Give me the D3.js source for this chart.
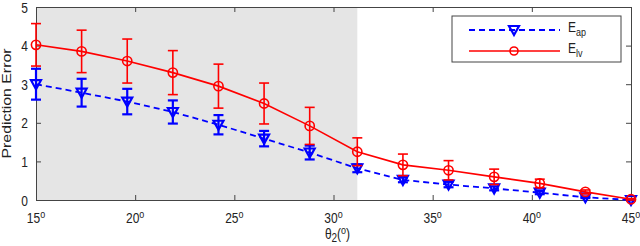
<!DOCTYPE html>
<html>
<head>
<meta charset="utf-8">
<script src="https://d3js.org/d3.v7.min.js"></script>
<style>
  body { margin: 0; background: #fff; }
  svg text { font-family: "Liberation Sans", Arial, sans-serif; fill: #222; }
</style>
</head>
<body>
<script>
// angle theta2 (degrees)
var angles = [15, 17.3, 19.6, 21.9, 24.2, 26.5, 28.8, 31.2, 33.5, 35.8, 38.1, 40.4, 42.7, 45];
// E_ap (blue dashed, triangles)
var apMean = [3.0, 2.78, 2.55, 2.28, 1.95, 1.59, 1.23, 0.82, 0.52, 0.4, 0.3, 0.19, 0.07, 0.0];
var apErr  = [0.4, 0.36, 0.33, 0.3, 0.25, 0.2, 0.18, 0.1, 0.06, 0.07, 0.05, 0.04, 0.02, 0.01];
// E_lv (red solid, circles)
var lvMean = [4.02, 3.85, 3.6, 3.3, 2.95, 2.5, 1.92, 1.25, 0.91, 0.77, 0.6, 0.43, 0.21, 0.02];
var lvErr  = [0.55, 0.55, 0.57, 0.57, 0.57, 0.53, 0.48, 0.36, 0.28, 0.25, 0.2, 0.11, 0.05, 0.02];
var xTicks = [15, 20, 25, 30, 35, 40, 45];
var yTicks = [0, 1, 2, 3, 4, 5];
var shadeEnd = 31.2;

var width = 640, height = 246;
var margin = {left: 36, right: 9, top: 7, bottom: 46};
var pw = width - margin.left - margin.right;
var ph = height - margin.top - margin.bottom;
var stretch = "scale(1,1.2)"; // the figure's text looks taller than wide

var svg = d3.select("body").append("svg")
    .attr("width", width)
    .attr("height", height);

var g = svg.append("g").attr("transform", "translate(" + margin.left + "," + margin.top + ")");

var x = d3.scaleLinear().domain([15, 45]).range([0, pw]);
var y = d3.scaleLinear().domain([0, 5]).range([ph, 0]);

// shaded region
g.append("rect")
    .attr("x", 0).attr("y", 0)
    .attr("width", x(shadeEnd) - x(15))
    .attr("height", ph)
    .attr("fill", "#e5e5e5");

// axes (inner ticks, box)
var axisColor = "#444";
var xb = g.append("g").attr("transform", "translate(0," + ph + ")")
    .call(d3.axisBottom(x).tickValues(xTicks).tickSize(-5).tickFormat(""));
var xt = g.append("g")
    .call(d3.axisTop(x).tickValues(xTicks).tickSize(-5).tickFormat(""));
var yl = g.append("g")
    .call(d3.axisLeft(y).tickValues(yTicks).tickSize(-5).tickFormat(d3.format("d")).tickPadding(8));
var yr = g.append("g").attr("transform", "translate(" + pw + ",0)")
    .call(d3.axisRight(y).tickValues(yTicks).tickSize(-5).tickFormat(""));
[xb, xt, yl, yr].forEach(function (a) {
    a.selectAll("path").attr("stroke", axisColor);
    a.selectAll("line").attr("stroke", axisColor);
    a.selectAll("text").style("font-size", "12px").attr("fill", "#222")
        .style("font-family", "Liberation Sans, Arial, sans-serif");
});
yl.selectAll("text").attr("dy", "0.35em").attr("transform", stretch);

// x tick labels with degree sign
var xl = g.append("g").selectAll("g.xtl")
    .data(xTicks).enter().append("g")
    .attr("class", "xtl")
    .attr("transform", function (d) { return "translate(" + x(d) + "," + (ph + 23) + ") " + stretch; })
    .append("text")
    .attr("text-anchor", "middle")
    .style("font-size", "12px");
xl.append("tspan").text(function (d) { return d; });
xl.append("tspan").attr("dy", -4).style("font-size", "9px").text("o");

// axis labels
var xlab = svg.append("g")
    .attr("transform", "translate(" + (margin.left + x(30) + 4) + ",239) " + stretch)
    .append("text")
    .attr("text-anchor", "middle")
    .style("font-size", "12px");
xlab.append("tspan").text("\u03b8");
xlab.append("tspan").attr("dy", 2.5).style("font-size", "10px").text("2");
xlab.append("tspan").attr("dy", -2.5).text("(");
xlab.append("tspan").attr("dy", -4).style("font-size", "9px").text("o");
xlab.append("tspan").attr("dy", 4).text(")");

svg.append("text")
    .attr("transform", "translate(10.5," + (margin.top + ph / 2) + ") rotate(-90) scale(1.32,1)")
    .attr("text-anchor", "middle")
    .style("font-size", "12px")
    .text("Prediction Error");

var line = d3.line()
    .x(function (d) { return x(d.a); })
    .y(function (d) { return y(d.m); });

function rows(means, errs) {
    return angles.map(function (a, i) { return {a: a, m: means[i], e: errs[i]}; });
}
var apData = rows(apMean, apErr);
var lvData = rows(lvMean, lvErr);

var blue = "#0000ff", red = "#ff0000";

// E_ap lines and error bars
g.append("path").datum(apData)
    .attr("d", line)
    .attr("fill", "none")
    .attr("stroke", blue)
    .attr("stroke-width", 1.8)
    .attr("stroke-dasharray", "6,4");

function errorBars(data, color, sw) {
    var eb = g.append("g").selectAll("g").data(data).enter().append("g")
        .attr("stroke", color).attr("stroke-width", sw).attr("fill", "none");
    eb.append("line")
        .attr("x1", function (d) { return x(d.a); })
        .attr("x2", function (d) { return x(d.a); })
        .attr("y1", function (d) { return y(d.m - d.e); })
        .attr("y2", function (d) { return y(d.m + d.e); });
    [-1, 1].forEach(function (s) {
        eb.append("line")
            .attr("x1", function (d) { return x(d.a) - 5; })
            .attr("x2", function (d) { return x(d.a) + 5; })
            .attr("y1", function (d) { return y(d.m + s * d.e); })
            .attr("y2", function (d) { return y(d.m + s * d.e); });
    });
}
errorBars(apData, blue, 2.2);

function triangle(cx, cy) {
    return "M" + (cx - 5) + "," + (cy - 4) + "L" + (cx + 5) + "," + (cy - 4) + "L" + cx + "," + (cy + 5) + "Z";
}
g.append("g").selectAll("path").data(apData).enter().append("path")
    .attr("d", function (d) { return triangle(x(d.a), y(d.m)); })
    .attr("fill", "none")
    .attr("stroke", blue)
    .attr("stroke-width", 2.2);

// E_lv
g.append("path").datum(lvData)
    .attr("d", line)
    .attr("fill", "none")
    .attr("stroke", red)
    .attr("stroke-width", 1.6);
errorBars(lvData, red, 1.6);
g.append("g").selectAll("circle").data(lvData).enter().append("circle")
    .attr("cx", function (d) { return x(d.a); })
    .attr("cy", function (d) { return y(d.m); })
    .attr("r", 4.6)
    .attr("fill", "none")
    .attr("stroke", red)
    .attr("stroke-width", 1.6);

// legend
var leg = svg.append("g").attr("transform", "translate(452,16)");
leg.append("rect").attr("width", 169).attr("height", 46)
    .attr("fill", "#fff").attr("stroke", "#444").attr("stroke-width", 1);
leg.append("line").attr("x1", 17).attr("x2", 108).attr("y1", 14).attr("y2", 14)
    .attr("stroke", blue).attr("stroke-width", 1.8).attr("stroke-dasharray", "6,4");
leg.append("path").attr("d", triangle(62, 14)).attr("fill", "none")
    .attr("stroke", blue).attr("stroke-width", 2.2);
leg.append("line").attr("x1", 17).attr("x2", 108).attr("y1", 35).attr("y2", 35)
    .attr("stroke", red).attr("stroke-width", 1.6);
leg.append("circle").attr("cx", 62).attr("cy", 35).attr("r", 4)
    .attr("fill", "none").attr("stroke", red).attr("stroke-width", 1.6);
[["E", "ap", 16], ["E", "lv", 37]].forEach(function (t) {
    var tx = leg.append("g").attr("transform", "translate(116," + t[2] + ") " + stretch)
        .append("text").style("font-size", "12px");
    tx.append("tspan").text(t[0]);
    tx.append("tspan").attr("dy", 3).style("font-size", "9px").text(t[1]);
});
</script>
</body>
</html>
